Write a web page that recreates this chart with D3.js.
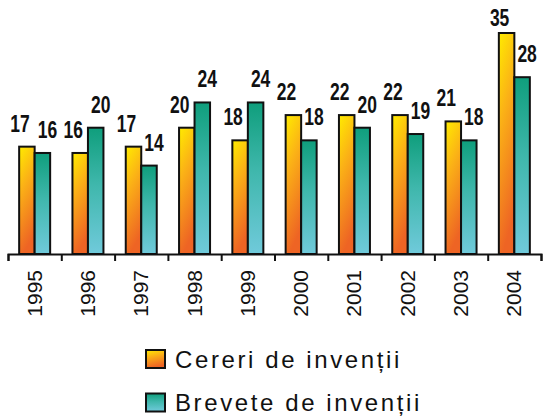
<!doctype html>
<html>
<head>
<meta charset="utf-8">
<script src="https://cdn.jsdelivr.net/npm/d3@7"></script>
<style>
  body { margin: 0; background: #fff; }
  text { font-family: "Liberation Sans", Arial, sans-serif; }
</style>
</head>
<body>
<svg width="546" height="416"></svg>
<script>
// data
var years = ["1995", "1996", "1997", "1998", "1999", "2000", "2001", "2002", "2003", "2004"];
var cereri = [17, 16, 17, 20, 18, 22, 22, 22, 21, 35];
var brevete = [16, 20, 14, 24, 24, 18, 20, 19, 18, 28];
var seriesNames = ["Cereri de invenții", "Brevete de invenții"];

var svg = d3.select("svg");

// gradients for the bars
var defs = svg.append("defs");
var gOr = defs.append("linearGradient").attr("id", "gradOr")
    .attr("x1", 0).attr("y1", 0).attr("x2", 0.25).attr("y2", 1);
gOr.append("stop").attr("offset", "0%").attr("stop-color", "#ffec00");
gOr.append("stop").attr("offset", "40%").attr("stop-color", "#fbb216");
gOr.append("stop").attr("offset", "100%").attr("stop-color", "#ee6424");
var gTe = defs.append("linearGradient").attr("id", "gradTe")
    .attr("x1", 0).attr("y1", 0).attr("x2", 0).attr("y2", 1);
gTe.append("stop").attr("offset", "0%").attr("stop-color", "#0f9e7c");
gTe.append("stop").attr("offset", "45%").attr("stop-color", "#3fb7ac");
gTe.append("stop").attr("offset", "100%").attr("stop-color", "#70cadb");

var fills = ["url(#gradOr)", "url(#gradTe)"];

// scales
var left = 8, right = 541, base = 254;
var x = d3.scaleBand().domain(years).range([left, right]).padding(0);
var xi = d3.scaleLinear().domain([0, years.length]).range([left, right]);
var y = d3.scaleLinear().domain([0, 35]).range([base, 33]);
var barW = 15.5;

// bars
var series = [cereri, brevete];
series.forEach(function (vals, s) {
    svg.append("g").selectAll("rect")
        .data(vals)
        .enter()
        .append("rect")
        .attr("x", function (d, i) { return x(years[i]) + x.bandwidth() / 2 - barW + s * barW; })
        .attr("y", function (d) { return y(d); })
        .attr("width", barW)
        .attr("height", function (d) { return base - y(d); })
        .style("fill", fills[s])
        .style("stroke", "#111")
        .style("stroke-width", 2);
});

// value labels (narrow bold digits)
var labDx = [-7, 5];
series.forEach(function (vals, s) {
    svg.append("g").selectAll("text")
        .data(vals)
        .enter()
        .append("text")
        .attr("transform", function (d, i) {
            var cx = x(years[i]) + x.bandwidth() / 2 - barW / 2 + s * barW + labDx[s];
            var ty = Math.max(y(d) - 15, 26);
            return "translate(" + cx + "," + ty + ") scale(0.76,1)";
        })
        .attr("text-anchor", "middle")
        .style("font-size", "23px")
        .style("font-weight", "bold")
        .style("fill", "#111")
        .text(function (d) { return d; });
});

// x axis with ticks between the categories
var axis = svg.append("g")
    .attr("transform", "translate(0," + base + ")")
    .call(d3.axisBottom(xi).tickValues(d3.range(years.length + 1)).tickSize(7).tickSizeOuter(7).tickFormat(""));
axis.select(".domain").style("stroke", "#111").style("stroke-width", 2);
axis.selectAll(".tick line").style("stroke", "#111").style("stroke-width", 2);

// rotated year labels
svg.append("g").selectAll("text")
    .data(years)
    .enter()
    .append("text")
    .attr("transform", function (d) {
        return "translate(" + (x(d) + x.bandwidth() / 2 + 7) + ",270) rotate(-90)";
    })
    .attr("text-anchor", "end")
    .style("font-size", "21px")
    .style("fill", "#111")
    .text(function (d) { return d; });

// legend
var legend = svg.append("g").selectAll("g")
    .data(seriesNames)
    .enter()
    .append("g")
    .attr("transform", function (d, i) { return "translate(146," + (350 + i * 43.5) + ")"; });
legend.append("rect")
    .attr("width", 19).attr("height", 18)
    .style("fill", function (d, i) { return fills[i]; })
    .style("stroke", "#111")
    .style("stroke-width", 2);
legend.append("text")
    .attr("x", 29).attr("y", 17.5)
    .style("font-size", "24px")
    .style("letter-spacing", "2.6px")
    .style("fill", "#111")
    .text(function (d) { return d; });
</script>
</body>
</html>
